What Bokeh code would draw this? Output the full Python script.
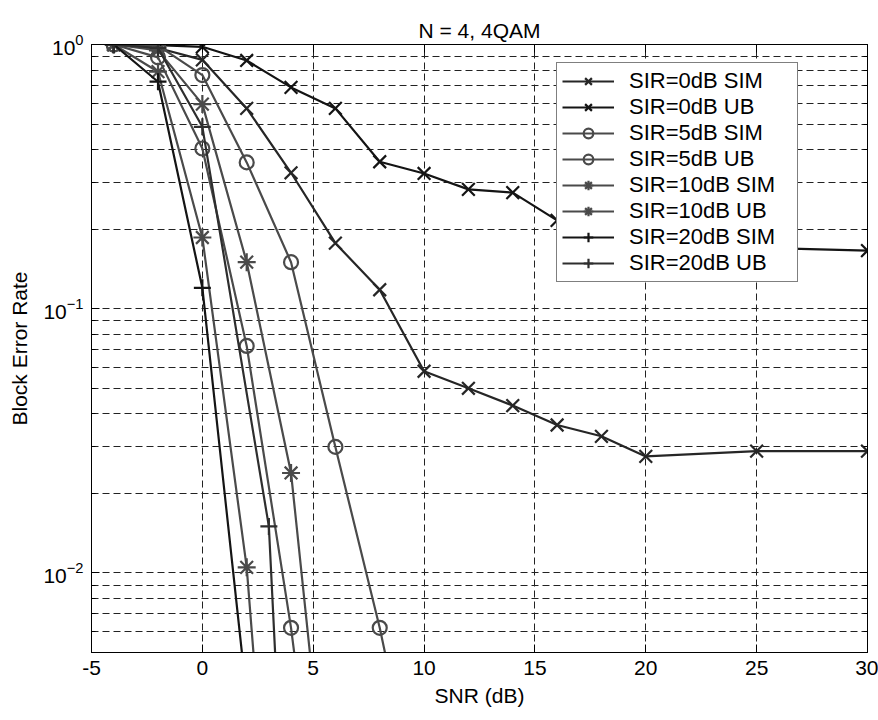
import numpy as np
from bokeh.plotting import figure
from bokeh.models import (FixedTicker, LinearAxis, LogAxis, Legend, LegendItem,
                          Range1d)
from bokeh.embed import file_html
from bokeh.resources import INLINE

# ---------------- data ----------------
snr_0 = [-4, -2, 0, 2, 4, 6, 8, 10, 12, 14, 16, 18, 20, 25, 30]
ber_0_sim = [1.0, 0.97, 0.875, 0.573, 0.327, 0.177, 0.118, 0.058, 0.050, 0.043,
             0.0363, 0.0329, 0.0276, 0.0289, 0.0289]
ber_0_ub = [1.0, 0.995, 0.98, 0.87, 0.688, 0.573, 0.36, 0.325, 0.283, 0.275,
            0.216, 0.19, 0.175, 0.17, 0.166]

snr_5 = [-4, -2, 0, 2, 4, 6, 8, 10]
ber_5_sim = [1.0, 0.894, 0.404, 0.0723, 0.0062, 0.0003, 0.00001, 0.000001]
ber_5_ub = [1.0, 0.99, 0.766, 0.358, 0.150, 0.030, 0.0062, 0.001]

snr_10 = [-4, -2, 0, 2, 4, 6]
ber_10_sim = [1.0, 0.789, 0.186, 0.0105, 0.00008, 0.000001]
ber_10_ub = [1.0, 0.95, 0.595, 0.150, 0.0239, 0.0006]

snr_20_sim = [-4, -2, 0, 2, 4]
ber_20_sim = [1.0, 0.723, 0.120, 0.0034, 0.00001]
snr_20_ub = [-4, -2, 0, 3, 4]
ber_20_ub = [1.0, 0.97, 0.488, 0.015, 0.0003]

labels = ["SIR=0dB SIM", "SIR=0dB UB", "SIR=5dB SIM", "SIR=5dB UB",
          "SIR=10dB SIM", "SIR=10dB UB", "SIR=20dB SIM", "SIR=20dB UB"]

x_ticks = [-5, 0, 5, 10, 15, 20, 25, 30]
y_major = [0.01, 0.1, 1.0]

# ---------------- figure ----------------
FONT = "Liberation Sans"
p = figure(width=878, height=720, output_backend="svg", toolbar_location=None,
           x_range=Range1d(-5, 30), y_range=Range1d(0.005, 1.0),
           y_axis_type="log", x_axis_type="linear",
           min_border_left=91, min_border_right=11, min_border_top=44,
           min_border_bottom=68)
p.frame_width = 776
p.frame_height = 608
p.background_fill_color = "white"
p.border_fill_color = "white"
p.outline_line_color = "black"
p.outline_line_width = 1

p.title.text = "N = 4, 4QAM"
p.title.align = "center"
p.title.text_font = FONT
p.title.text_font_size = "21px"
p.title.text_font_style = "normal"
p.title.text_color = "black"
p.title.offset = 0
p.title.standoff = 6

minor = []
for d in [0.001, 0.01, 0.1]:
    for k in range(2, 10):
        minor.append(k * d)

xt = FixedTicker(ticks=x_ticks)
yt = FixedTicker(ticks=y_major, minor_ticks=minor)
p.xaxis[0].ticker = xt
p.yaxis[0].ticker = yt

def style_axis(ax, labels_on=True):
    ax.axis_line_color = "black"
    ax.major_tick_in = 8
    ax.major_tick_out = 0
    ax.minor_tick_in = 4
    ax.minor_tick_out = 0
    ax.major_tick_line_color = "black"
    ax.minor_tick_line_color = "black"
    ax.major_label_text_font = FONT
    ax.major_label_text_font_size = "21px"
    ax.major_label_text_color = "black"
    ax.axis_label_text_font = FONT
    ax.axis_label_text_font_size = "21px"
    ax.axis_label_text_font_style = "normal"
    ax.axis_label_text_color = "black"
    if not labels_on:
        ax.major_label_text_font_size = "0px"
        ax.major_label_text_alpha = 0

style_axis(p.xaxis[0])
style_axis(p.yaxis[0])
p.xaxis[0].axis_label = "SNR (dB)"
p.yaxis[0].axis_label = "Block Error Rate"
p.xaxis[0].major_label_overrides = {t: str(t) for t in x_ticks}
p.xaxis[0].major_label_standoff = 8
p.xaxis[0].axis_label_standoff = 6
p.yaxis[0].major_label_standoff = 8
p.yaxis[0].axis_label_standoff = 9

top_ax = LinearAxis(ticker=FixedTicker(ticks=x_ticks))
style_axis(top_ax, labels_on=False)
p.add_layout(top_ax, "above")
right_ax = LogAxis(ticker=FixedTicker(ticks=y_major, minor_ticks=minor))
style_axis(right_ax, labels_on=False)
p.add_layout(right_ax, "right")

# grid
p.xgrid.ticker = xt
p.ygrid.ticker = yt
for g in [p.xgrid[0], p.ygrid[0]]:
    g.grid_line_color = "#222222"
    g.grid_line_width = 1
    g.grid_line_dash = "7 4"
p.ygrid[0].minor_grid_line_color = "#222222"
p.ygrid[0].minor_grid_line_dash = "7 4"
p.ygrid[0].minor_grid_line_width = 1

# ---------------- series ----------------
series = [
    (snr_0, ber_0_sim, "x", "#262626", 18),
    (snr_0, ber_0_ub, "x", "#141414", 18),
    (snr_5, ber_5_sim, "circle", "#4a4a4a", 14),
    (snr_5, ber_5_ub, "circle", "#4a4a4a", 14),
    (snr_10, ber_10_sim, "asterisk", "#4a4a4a", 18),
    (snr_10, ber_10_ub, "asterisk", "#4a4a4a", 18),
    (snr_20_sim, ber_20_sim, "cross", "#141414", 17),
    (snr_20_ub, ber_20_ub, "cross", "#2e2e2e", 17),
]

items = []
for (xs, ys, mk, col, sz), lab in zip(series, labels):
    r1 = p.line(xs, ys, line_color=col, line_width=2.2)
    r2 = p.scatter(xs, ys, marker=mk, size=sz, line_color=col, line_width=2.2,
                   fill_color=None)
    items.append(LegendItem(label=lab, renderers=[r1, r2]))

legend = Legend(items=items, location=(465, 370))
legend.label_text_font = FONT
legend.label_text_font_size = "22px"
legend.label_text_color = "black"
legend.label_height = 24
legend.glyph_height = 24
legend.glyph_width = 52
legend.label_standoff = 15
legend.label_width = 163
legend.spacing = 0
legend.padding = 5
legend.margin = 0
legend.border_line_color = "black"
legend.border_line_width = 1
legend.background_fill_color = "white"
legend.background_fill_alpha = 1
p.add_layout(legend, "center")

open("out.html", "w").write(file_html(p, INLINE))
